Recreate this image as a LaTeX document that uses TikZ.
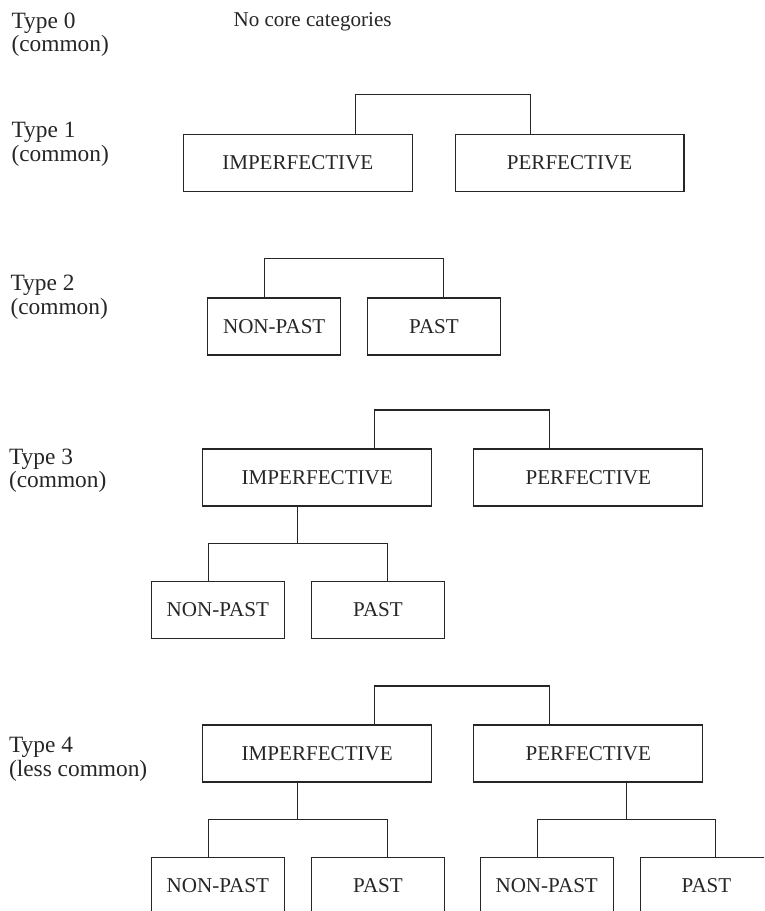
\documentclass[tikz,border=0pt]{standalone}
\usepackage{fontspec}
\setmainfont{Liberation Serif}
\usetikzlibrary{calc}

\begin{document}
\begin{tikzpicture}[x=0.02cm, y=-0.02cm, line width=0.6pt, color=black!85,
	every node/.style={font=\fontsize{12}{13}\selectfont, inner sep=0pt},
	bigbox/.style={draw, minimum width=4.58cm, minimum height=1.14cm},
	smallbox/.style={draw, minimum width=2.66cm, minimum height=1.14cm},
	typelabel/.style={anchor=north west, align=left, font=\fontsize{13.3}{13.3}\selectfont}]
	\useasboundingbox (0,0) rectangle (764,911);
	\clip (0,0) rectangle (764,911);

	\node [typelabel] (T0) at (11,12) {Type 0\\(common)};
	\node [anchor=north west] (None) at (233,12) {No core categories};

	\node [typelabel] (T1) at (11,122) {Type 1\\(common)};
	\node [bigbox] (Imp_1) at (297.8,163) {IMPERFECTIVE};
	\node [bigbox] (Perf_1) at (569.5,163) {PERFECTIVE};
	\draw ($(Imp_1.north west)!.75!(Imp_1.north east)$) -- ++(0,-39) -| ($(Perf_1.north west)!.33!(Perf_1.north east)$);

	\node [typelabel] (T2) at (10,275) {Type 2\\(common)};
	\node [smallbox] (NonPast_2) at (274.2,326.5) {NON-PAST};
	\node [smallbox] (Past_2) at (434,326.5) {PAST};
	\draw ($(NonPast_2.north west)!.43!(NonPast_2.north east)$) -- ++(0,-39) -| ($(Past_2.north west)!.57!(Past_2.north east)$);

	\node [typelabel] (T3) at (8.5,448) {Type 3\\(common)};
	\node [bigbox] (Imp_3) at (317.2,477.5) {IMPERFECTIVE};
	\node [bigbox] (Perf_3) at (588.3,477.5) {PERFECTIVE};
	\node [smallbox] (NonPast_3) at (217.9,610) {NON-PAST};
	\node [smallbox] (Past_3) at (378,610) {PAST};
	\draw ($(Imp_3.north west)!.75!(Imp_3.north east)$) -- ++(0,-38.5) -| ($(Perf_3.north west)!.33!(Perf_3.north east)$);
	\draw ($(Imp_3.south west)!.415!(Imp_3.south east)$) -- ++(0,37) coordinate (J_3);
	\draw ($(NonPast_3.north west)!.43!(NonPast_3.north east)$) |- (J_3) -| ($(Past_3.north west)!.57!(Past_3.north east)$);

	\node [typelabel] (T4) at (8.5,737) {Type 4\\(less common)};
	\node [bigbox] (Imp_4) at (317.2,753.5) {IMPERFECTIVE};
	\node [bigbox] (Perf_4) at (588.3,753.5) {PERFECTIVE};
	\node [smallbox] (NonPast_4a) at (217.8,885.8) {NON-PAST};
	\node [smallbox] (Past_4a) at (378,885.8) {PAST};
	\node [smallbox] (NonPast_4b) at (546.7,885.8) {NON-PAST};
	\node [smallbox] (Past_4b) at (706.5,885.8) {PAST};
	\draw ($(Imp_4.north west)!.75!(Imp_4.north east)$) -- ++(0,-38.5) -| ($(Perf_4.north west)!.33!(Perf_4.north east)$);
	\draw ($(Imp_4.south west)!.415!(Imp_4.south east)$) -- ++(0,37) coordinate (J_4a);
	\draw ($(NonPast_4a.north west)!.43!(NonPast_4a.north east)$) |- (J_4a) -| ($(Past_4a.north west)!.57!(Past_4a.north east)$);
	\draw ($(Perf_4.south west)!.665!(Perf_4.south east)$) -- ++(0,37) coordinate (J_4b);
	\draw ($(NonPast_4b.north west)!.43!(NonPast_4b.north east)$) |- (J_4b) -| ($(Past_4b.north west)!.57!(Past_4b.north east)$);
\end{tikzpicture}
\end{document}
